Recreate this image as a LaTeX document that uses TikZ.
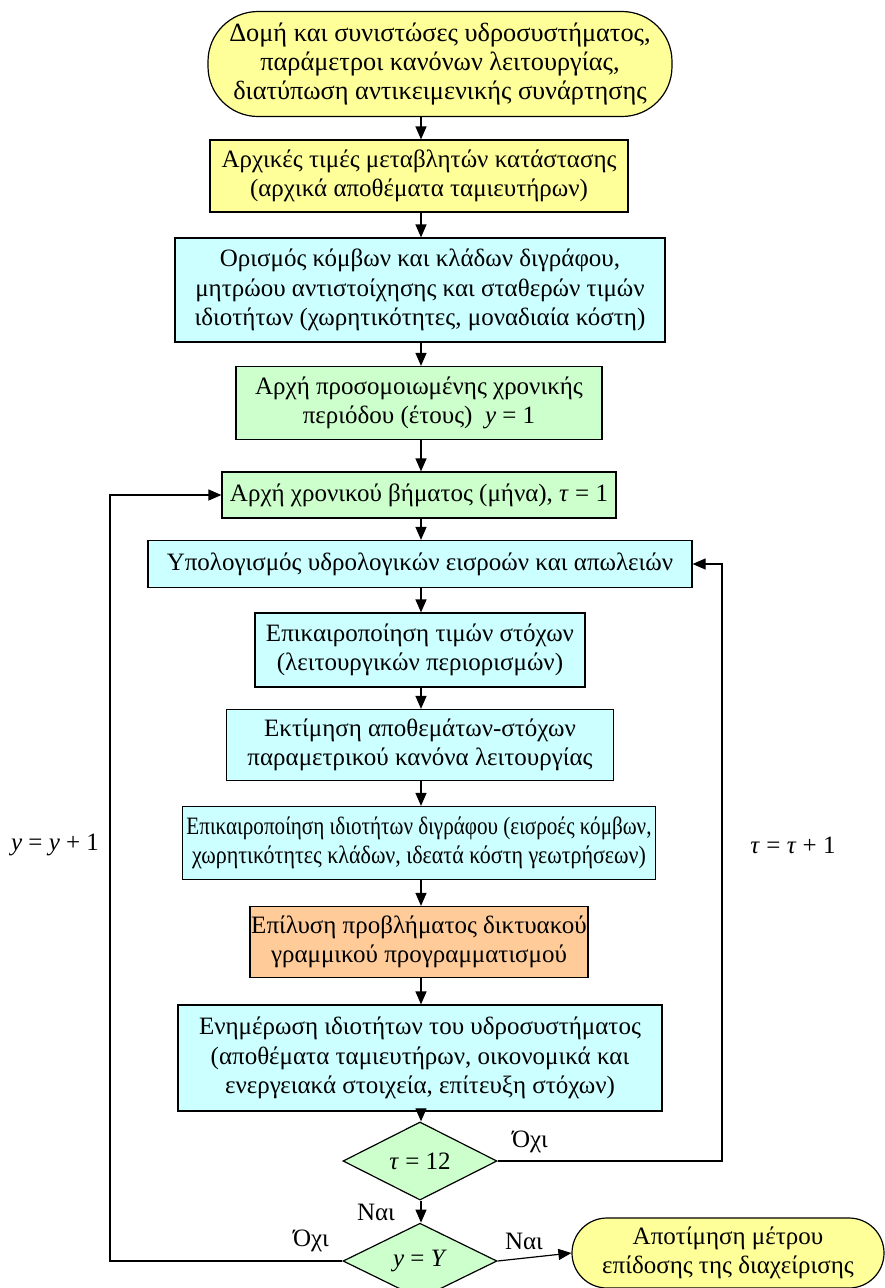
\documentclass[tikz,border=0pt]{standalone}
\usepackage{fontspec}
\setmainfont{Liberation Serif}
\usetikzlibrary{arrows.meta,shapes.geometric}
\definecolor{cyellow}{HTML}{FFFF99}
\definecolor{ccyan}{HTML}{CCFFFF}
\definecolor{cgreen}{HTML}{CCFFCC}
\definecolor{corange}{HTML}{FFCC99}
\begin{document}
\begin{tikzpicture}[x=1pt,y=-1pt,
  every node/.style={font=\fontsize{25}{29.5}\selectfont},
  base/.style={draw=black,line width=1.2pt,align=center,inner sep=0pt},
  boxy/.style={base,fill=cyellow},
  boxc/.style={base,fill=ccyan},
  boxg/.style={base,fill=cgreen},
  boxo/.style={base,fill=corange},
  term/.style={base,fill=cyellow,rounded corners=50pt},
  dia/.style={base,fill=cgreen,diamond},
  conn/.style={line width=1.2pt,-{Triangle[length=13pt,width=11pt]}},
  lbl/.style={inner sep=0pt}]
\useasboundingbox (0,0) rectangle (885,1288);
\coordinate (col) at (421,0);
\node[term,minimum width=464pt,minimum height=105pt,font=\fontsize{26.3}{29}\selectfont] (b1) at (440,64) {Δομή και συνιστώσες υδροσυστήματος,\\παράμετροι κανόνων λειτουργίας,\\διατύπωση αντικειμενικής συνάρτησης};
\node[boxy,minimum width=418pt,minimum height=72pt] (b2) at (419,176) {Αρχικές τιμές μεταβλητών κατάστασης\\(αρχικά αποθέματα ταμιευτήρων)};
\node[boxc,minimum width=490pt,minimum height=104pt] (b3) at (420,290) {Ορισμός κόμβων και κλάδων διγράφου,\\μητρώου αντιστοίχησης και σταθερών τιμών\\ιδιοτήτων (χωρητικότητες, μοναδιαία κόστη)};
\node[boxg,minimum width=366pt,minimum height=73pt] (b4) at (419,403) {Αρχή προσομοιωμένης χρονικής\\περιόδου (έτους) \ \textit{y} = 1};
\node[boxg,minimum width=394pt,minimum height=46pt] (b5) at (419,495) {Αρχή χρονικού βήματος (μήνα), \textit{τ} = 1};
\node[boxc,minimum width=544pt,minimum height=47pt] (b6) at (420,564) {Υπολογισμός υδρολογικών εισροών και απωλειών};
\node[boxc,minimum width=330pt,minimum height=74pt] (b7) at (420,650) {Επικαιροποίηση τιμών στόχων\\(λειτουργικών περιορισμών)};
\node[boxc,minimum width=387pt,minimum height=71pt] (b8) at (420,745) {Εκτίμηση αποθεμάτων-στόχων\\παραμετρικού κανόνα λειτουργίας};
\node[boxc,minimum width=473pt,minimum height=73pt] (b9) at (419,843) {\scalebox{0.845}[1]{Επικαιροποίηση ιδιοτήτων διγράφου (εισροές κόμβων,}\\\scalebox{0.88}[1]{χωρητικότητες κλάδων, ιδεατά κόστη γεωτρήσεων)}};
\node[boxo,minimum width=338pt,minimum height=71pt] (b10) at (419,942) {Επίλυση προβλήματος δικτυακού\\γραμμικού προγραμματισμού};
\node[boxc,minimum width=484pt,minimum height=106pt] (b11) at (420,1058) {Ενημέρωση ιδιοτήτων του υδροσυστήματος\\(αποθέματα ταμιευτήρων, οικονομικά και\\ενεργειακά στοιχεία, επίτευξη στόχων)};
\node[dia,minimum width=154pt,minimum height=58pt] (d1) at (420,1161) {\textit{τ} = 12};
\node[dia,minimum width=154pt,minimum height=56pt] (d2) at (420,1261) {\textit{y} = \textit{Y}};
\node[term,rounded corners=35pt,minimum width=312pt,minimum height=70pt] (e) at (728,1253) {Αποτίμηση μέτρου\\επίδοσης της διαχείρισης};
\coordinate (rc) at (722,1161);
\coordinate (lc) at (110,1261);
\foreach \a/\b in {b1/b2,b2/b3,b3/b4,b4/b5,b5/b6,b6/b7,b7/b8,b8/b9,b9/b10,b10/b11,b11/d1,d1/d2}
  \draw[conn] (\a.south -| col) -- (\b.north -| col);
\draw[conn] (d2.east) -- (e.west);
\draw[conn] (d1.east) -- (rc) |- (b6.east);
\draw[conn] (d2.west) -- (lc) |- (b5.west);
\node[lbl] (l1) at (530,1142) {Όχι};
\node[lbl] (l2) at (376,1212) {Ναι};
\node[lbl] (l3) at (311,1241) {Όχι};
\node[lbl] (l4) at (524,1241) {Ναι};
\node[lbl] (l5) at (55,845) {\textit{y} = \textit{y} + 1};
\node[lbl] (l6) at (793,845) {\textit{τ} = \textit{τ} + 1};
\end{tikzpicture}
\end{document}
